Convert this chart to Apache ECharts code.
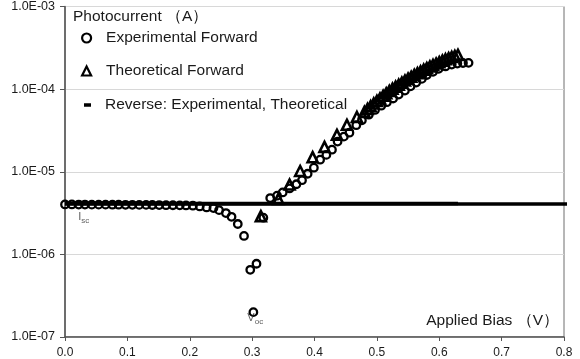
<!DOCTYPE html>
<html><head><meta charset="utf-8">
<script src="https://cdn.jsdelivr.net/npm/echarts@6/dist/echarts.min.js"></script>
<style>html,body{margin:0;padding:0;background:#fff}#c{width:580px;height:359px}</style>
</head><body><div id="c"></div>
<script>
// ---- data ----
const expX = [0, 0.011, 0.022, 0.032, 0.043, 0.054, 0.065, 0.076, 0.086, 0.097, 0.108, 0.119, 0.130, 0.140, 0.151, 0.162, 0.173, 0.184, 0.194, 0.205,
  0.216, 0.227, 0.238, 0.247, 0.258, 0.267, 0.277, 0.287, 0.297, 0.302, 0.307, 0.318,
  0.329, 0.340, 0.349, 0.360, 0.371, 0.380, 0.389, 0.399, 0.409, 0.419, 0.428, 0.437, 0.447, 0.456, 0.467, 0.476, 0.487,
  0.497, 0.507, 0.516, 0.526, 0.535, 0.545, 0.554, 0.563, 0.572, 0.580, 0.590, 0.599, 0.610, 0.620, 0.629, 0.638, 0.647];
const expY = [4.02e-6, 4.02e-6, 4.01e-6, 4.01e-6, 4.0e-6, 4.0e-6, 4.0e-6, 3.99e-6, 3.99e-6, 3.98e-6, 3.98e-6, 3.97e-6, 3.97e-6, 3.96e-6, 3.95e-6, 3.94e-6, 3.93e-6, 3.92e-6, 3.91e-6, 3.88e-6,
  3.8e-6, 3.7e-6, 3.63e-6, 3.43e-6, 3.16e-6, 2.85e-6, 2.33e-6, 1.67e-6, 6.5e-7, 2.0e-7, 7.7e-7, 2.78e-6,
  4.8e-6, 5.13e-6, 5.62e-6, 6.28e-6, 7.06e-6, 7.9e-6, 9.46e-6, 1.12e-5, 1.4e-5, 1.6e-5, 1.85e-5, 2.32e-5, 2.66e-5, 2.97e-5, 3.66e-5, 4.2e-5, 4.9e-5,
  5.6e-5, 6.3e-5, 6.95e-5, 7.7e-5, 8.6e-5, 9.6e-5, 1.08e-4, 1.2e-4, 1.33e-4, 1.48e-4, 1.62e-4, 1.76e-4, 1.88e-4, 1.98e-4, 2.04e-4, 2.07e-4, 2.08e-4];
const theoX = [0.314, 0.342, 0.360, 0.377, 0.397, 0.416, 0.436, 0.452, 0.468,
  0.480, 0.485, 0.490, 0.495, 0.500, 0.505, 0.510, 0.515, 0.520, 0.525, 0.530, 0.535, 0.540, 0.545, 0.550, 0.555,
  0.560, 0.565, 0.570, 0.575, 0.580, 0.585, 0.590, 0.595, 0.600, 0.605, 0.610, 0.615, 0.620, 0.625, 0.630];
const theoY = [2.9e-6, 4.7e-6, 7.0e-6, 1.02e-5, 1.5e-5, 2.0e-5, 2.8e-5, 3.7e-5, 4.6e-5,
  5.3e-5, 5.75e-5, 6.2e-5, 6.7e-5, 7.2e-5, 7.7e-5, 8.3e-5, 8.9e-5, 9.5e-5, 1.01e-4, 1.07e-4, 1.13e-4, 1.2e-4, 1.27e-4, 1.34e-4, 1.41e-4,
  1.49e-4, 1.56e-4, 1.64e-4, 1.72e-4, 1.8e-4, 1.88e-4, 1.96e-4, 2.04e-4, 2.12e-4, 2.21e-4, 2.3e-4, 2.37e-4, 2.45e-4, 2.52e-4, 2.6e-4];
const revExpX = [0, 0.81];
const revExpY = [4.06e-6, 4.06e-6];
const revTheoX = [0, 0.63];
const revTheoY = [4.12e-6, 4.12e-6];
const xTickLabels = ['0.0', '0.1', '0.2', '0.3', '0.4', '0.5', '0.6', '0.7', '0.8'];
const yTickLabels = ['1.0E-07', '1.0E-06', '1.0E-05', '1.0E-04', '1.0E-03'];
const annotIsc = [0.03, 2.75e-6];
const annotVoc = [0.305, 1.65e-7];

const zip = (a, b) => a.map((v, i) => [v, b[i]]);
const FONT = 'Liberation Sans, Arial, sans-serif';
const TXT = '#1a1a1a';

const chart = echarts.init(document.getElementById('c'), null, {renderer: 'canvas'});
chart.setOption({
  animation: false,
  backgroundColor: '#fff',
  textStyle: {fontFamily: FONT},
  title: {
    text: 'Photocurrent （A）', left: 73, top: 9, padding: 0,
    textStyle: {fontSize: 15.5, fontWeight: 'normal', color: TXT, fontFamily: FONT}
  },
  legend: [
    {data: [{name: 'Experimental Forward', icon: 'circle', itemStyle: {color: '#fff', borderColor: '#000', borderWidth: 2.2}}],
     left: 81, top: 30, padding: 0, itemWidth: 9, itemHeight: 9, selectedMode: false,
     textStyle: {fontSize: 15.5, color: TXT, fontFamily: FONT, padding: [0, 0, 0, 10]}},
    {data: [{name: 'Theoretical Forward', icon: 'triangle', itemStyle: {color: '#fff', borderColor: '#000', borderWidth: 2.2}}],
     left: 81, top: 63, padding: 0, itemWidth: 9, itemHeight: 9, selectedMode: false,
     textStyle: {fontSize: 15.5, color: TXT, fontFamily: FONT, padding: [0, 0, 0, 10]}},
    {data: [{name: 'Reverse: Experimental, Theoretical', icon: 'rect', itemStyle: {color: '#000', borderWidth: 0}}],
     left: 84, top: 97, padding: 0, itemWidth: 7, itemHeight: 3.5, selectedMode: false,
     textStyle: {fontSize: 15.5, color: TXT, fontFamily: FONT, padding: [0, 0, 0, 9]}}
  ],
  grid: {left: 65, right: 16, top: 1, bottom: 22, show: true, borderColor: '#6e6e6e', borderWidth: 1, backgroundColor: 'transparent'},
  xAxis: {
    type: 'value', min: 0, max: 0.8, interval: 0.1,
    axisLine: {show: true, lineStyle: {color: '#555', width: 1.5}},
    axisTick: {show: true, length: 4, lineStyle: {color: '#555'}},
    axisLabel: {fontSize: 12, color: TXT, margin: 10, fontFamily: FONT,
      formatter: v => xTickLabels[Math.round(v * 10)]},
    splitLine: {show: false}
  },
  yAxis: {
    type: 'log', logBase: 10, min: 1e-7, max: 1e-3,
    axisLine: {show: true, lineStyle: {color: '#555', width: 1.5}},
    axisTick: {show: true, length: 5, lineStyle: {color: '#555'}},
    axisLabel: {fontSize: 12.5, color: TXT, margin: 10, fontFamily: FONT,
      formatter: v => yTickLabels[Math.round(Math.log10(v)) + 7]},
    splitLine: {show: true, lineStyle: {color: '#d8d8d8', width: 1}},
    minorTick: {show: false}
  },
  series: [
    {name: 'Reverse: Experimental, Theoretical', type: 'line', data: zip(revExpX, revExpY), showSymbol: false, symbol: 'none',
     clip: false, lineStyle: {color: '#000', width: 3.5}, z: 2},
    {name: 'Reverse: Experimental, Theoretical', type: 'line', data: zip(revTheoX, revTheoY), showSymbol: false, symbol: 'none',
     clip: false, lineStyle: {color: '#000', width: 3.5}, z: 2},
    {name: 'Experimental Forward', type: 'scatter', data: zip(expX, expY), symbol: 'circle', symbolSize: 7.5,
     itemStyle: {color: 'rgba(255,255,255,0)', borderColor: '#000', borderWidth: 2.3, opacity: 1}, z: 3},
    {name: 'Theoretical Forward', type: 'scatter', data: zip(theoX, theoY), symbol: 'triangle', symbolSize: 10,
     itemStyle: {color: 'rgba(255,255,255,0)', borderColor: '#000', borderWidth: 2.6, opacity: 1}, z: 4},
    {name: 'annot', type: 'scatter', symbolSize: 0, silent: true, z: 5,
     data: [
       {value: annotIsc, label: {show: true, position: 'inside', formatter: '{m|I}{s|sc}'}},
       {value: annotVoc, label: {show: true, position: 'inside', formatter: '{m|V}{s|oc}'}}
     ],
     label: {color: '#333', fontFamily: FONT,
       rich: {m: {fontSize: 11, color: '#333', fontFamily: FONT, verticalAlign: 'top'},
              s: {fontSize: 8, color: '#333', fontFamily: FONT, verticalAlign: 'bottom', padding: [6, 0, 0, 0]}}}}
  ],
  graphic: [
    {type: 'text', right: 21, top: 313, style: {text: 'Applied Bias （V）', fontSize: 15.5, fill: TXT, fontFamily: FONT}}
  ]
});
</script>
</body></html>
